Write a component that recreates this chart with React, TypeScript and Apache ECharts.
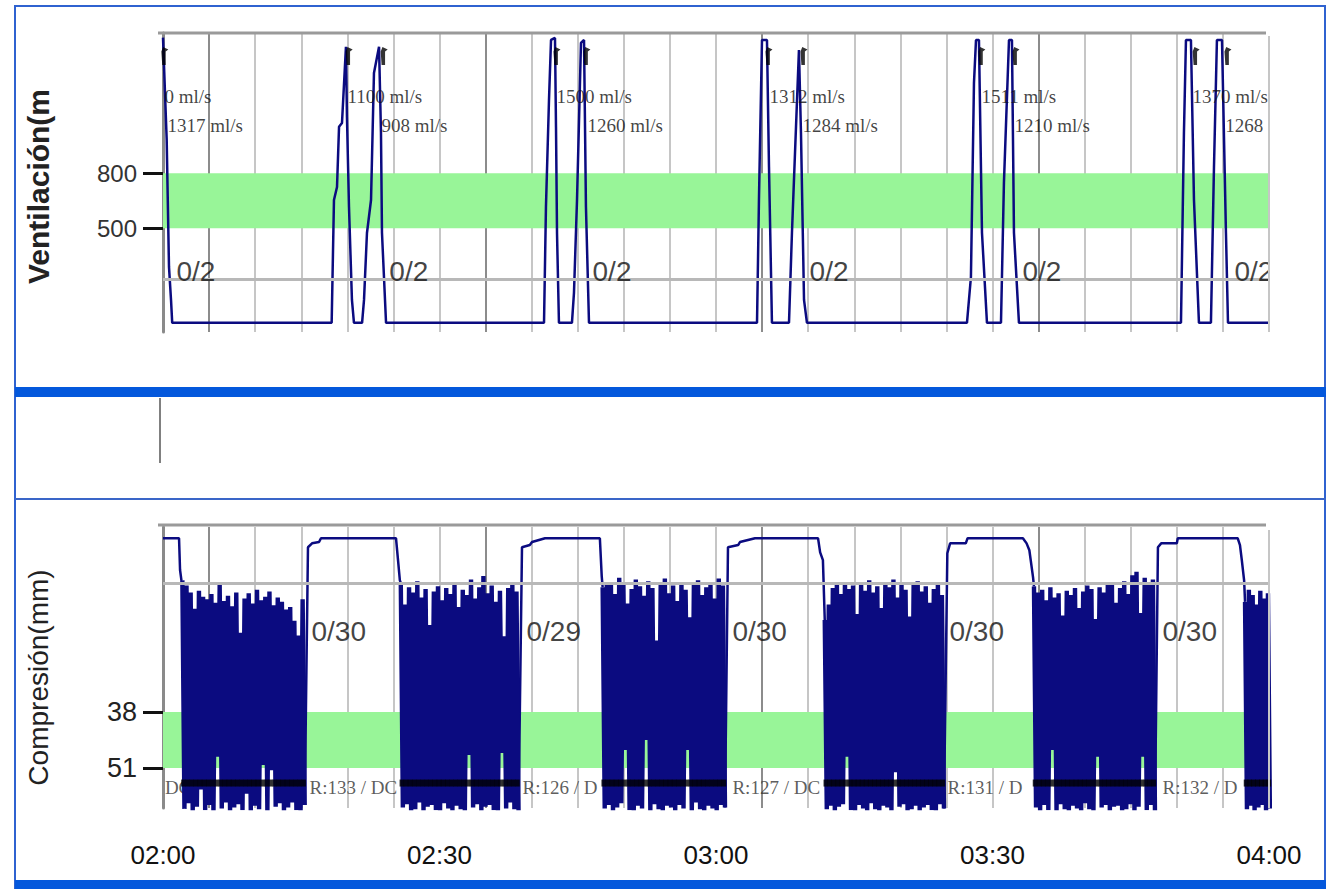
import React, { useEffect, useRef } from "react";
import * as echarts from "echarts";

// ---------- time axis ----------
const timeTickValues = [120, 150, 180, 210, 240];
const timeTickLabels = ["02:00", "02:30", "03:00", "03:30", "04:00"];

// ---------- ventilation (top panel) ----------
const ventAxisTicks = [500, 800];
const ventTargetBand = [500, 800];
const ventReferenceLine = 222;
const ventWave: number[][] = [
  [120.0, 1540], [120.4, 982], [120.65, 289], [120.87, 109], [121.0, -16],
  [138.3, -16], [138.55, 654], [138.88, 725], [139.1, 1053], [139.42, 1074], [139.85, 1490], [139.96, 1107], [140.18, 616], [140.5, 109], [140.72, -16],
  [141.6, -16], [141.81, 109], [142.13, 474], [142.57, 654], [142.89, 1347], [143.44, 1490], [143.65, 1020], [143.76, 474], [144.2, -16],
  [161.34, -16], [161.55, 616], [161.88, 1200], [162.1, 1527], [162.53, 1538], [162.64, 1053], [162.75, 474], [162.96, -16],
  [164.37, -16], [164.59, 147], [164.92, 654], [165.35, 1511], [165.68, 1527], [165.89, 616], [166.22, -16],
  [184.45, -16], [184.66, 654], [184.99, 1527], [185.53, 1527], [185.75, 834], [186.07, -16],
  [187.92, -16], [188.24, 474], [188.68, 1053], [189.0, 1472], [189.22, 1020], [189.55, 109], [189.87, -16],
  [207.23, -16], [207.66, 234], [207.99, 1293], [208.21, 1527], [208.53, 1527], [208.86, 474], [209.4, -16],
  [210.92, -16], [211.24, 746], [211.79, 1527], [212.11, 1527], [212.33, 474], [212.87, -16],
  [230.45, -16], [230.77, 1020], [230.99, 1527], [231.53, 1527], [231.86, 654], [232.4, -16],
  [233.7, -16], [234.03, 834], [234.35, 1527], [234.9, 1527], [235.33, 474], [235.55, -16],
  [240, -16],
];
const ventFlowTimes1 = [120.1, 139.96, 162.64, 185.75, 208.75, 231.64];
const ventFlowLabels1 = ["0 ml/s", "1100 ml/s", "1500 ml/s", "1312 ml/s", "1511 ml/s", "1370 ml/s"];
const ventFlowTimes2 = [120.43, 143.65, 166.0, 189.33, 212.33, 235.2];
const ventFlowLabels2 = ["1317 ml/s", "908 ml/s", "1260 ml/s", "1284 ml/s", "1210 ml/s", "1268 ml/s"];
const ventCountTimes = [121.4, 144.5, 166.55, 190.1, 213.2, 236.2];
const ventCountLabels = ["0/2", "0/2", "0/2", "0/2", "0/2", "0/2"];
const ventLabelRows = [1216, 1063, 262];
const ventMarkerTimes = [120.2, 140.2, 144.0, 162.75, 166.0, 185.75, 189.55, 208.85, 212.55, 232.1, 235.55];
const ventMarkerValue = 1440;

// ---------- compression (bottom panel) ----------
const compAxisTicks = [38, 51];
const compTargetBand = [38, 51];
const compReferenceLine = 8;
const pauseSegments: number[][][] = [
  [[120.0, -2.4], [121.74, -2.4], [121.85, 5.0], [122.0, 7.4]],
  [[135.73, -0.3], [136.17, -1.2], [136.93, -1.5], [137.14, -2.4], [145.28, -2.4], [145.5, 2.7], [145.7, 7.4]],
  [[158.95, -0.3], [159.8, -0.8], [160.04, -1.5], [161.45, -2.4], [167.4, -2.4], [167.6, 6.4]],
  [[181.3, -0.3], [182.4, -0.8], [182.6, -1.5], [184.23, -2.4], [191.07, -2.4], [191.3, 0.9], [191.6, 2.7]],
  [[205.1, 1.1], [205.4, -1.2], [207.1, -1.2], [207.3, -2.4], [213.3, -2.4], [213.7, -1.2], [214.0, 0.4], [214.4, 6.7]],
  [[227.95, -0.3], [228.3, -1.2], [230.0, -1.2], [230.1, -2.4], [236.6, -2.4], [236.85, -0.8], [237.05, 2.7], [237.3, 7.4]],
];
const blockStart = [122.1, 145.8, 167.7, 191.8, 214.5, 237.4];
const blockEnd = [135.6, 158.8, 181.2, 204.95, 227.85, 240.3];
const releaseByBlock: number[][] = [
  [7.4, 8.6, 10.2, 14.0, 9.8, 11.2, 11.8, 10.6, 12.6, 8.4, 12.2, 11.0, 13.4, 10.2, 19.6, 11.6, 10.4, 12.8, 9.6, 12.0, 11.2, 10.0, 13.2, 11.4, 12.4, 14.2, 13.6, 16.8, 20.2, 11.8],
  [8.0, 13.0, 9.0, 10.2, 7.6, 11.4, 9.4, 17.8, 10.0, 8.8, 12.0, 9.2, 10.6, 8.2, 13.6, 9.6, 10.8, 7.2, 11.6, 9.0, 6.4, 10.4, 8.6, 12.4, 9.8, 20.4, 9.2, 8.4, 10.0],
  [9.0, 7.8, 8.4, 10.6, 6.8, 8.0, 12.8, 9.4, 7.2, 8.8, 11.0, 7.6, 9.2, 21.4, 8.2, 7.0, 10.4, 8.6, 12.2, 7.8, 9.6, 16.0, 8.4, 7.4, 10.8, 9.0, 8.0, 11.6, 7.0, 8.6],
  [16.6, 13.0, 9.2, 8.0, 10.6, 7.8, 9.4, 8.6, 15.2, 8.2, 9.8, 7.4, 10.2, 8.8, 13.8, 8.0, 9.0, 7.2, 11.4, 8.4, 9.6, 15.8, 8.2, 7.6, 10.0, 8.8, 12.6, 9.4, 8.0, 10.8],
  [8.8, 10.2, 9.6, 12.0, 9.0, 11.4, 10.4, 15.6, 9.8, 10.8, 9.2, 13.8, 10.0, 8.6, 9.4, 16.4, 9.0, 10.2, 8.4, 8.0, 12.6, 9.2, 7.6, 10.6, 6.2, 5.4, 15.0, 6.8, 8.4, 7.2],
  [12.4, 9.6, 10.8, 13.0, 9.8, 11.6, 10.4],
];
const depthByBlock: number[][] = [
  [60.5, 59.2, 61.0, 60.0, 56.0, 60.8, 59.6, 61.2, 48.4, 60.4, 59.0, 61.0, 60.2, 59.4, 60.8, 57.0, 61.2, 59.8, 60.6, 50.3, 61.0, 51.5, 60.0, 59.2, 61.4, 60.2, 59.0, 60.8, 61.0, 59.6],
  [60.2, 59.4, 61.0, 60.6, 59.0, 61.2, 60.0, 59.6, 60.8, 61.4, 59.2, 60.4, 61.0, 59.8, 60.6, 61.2, 48.0, 60.2, 59.4, 61.0, 60.0, 59.6, 60.8, 61.2, 47.5, 60.4, 59.0, 60.6, 61.0],
  [60.4, 59.6, 61.0, 60.2, 59.2, 46.8, 60.8, 61.2, 59.8, 60.4, 44.5, 61.0, 59.4, 60.6, 61.2, 59.8, 60.2, 61.0, 59.6, 60.4, 46.8, 61.2, 59.0, 60.6, 61.0, 59.8, 60.4, 61.2, 59.6, 60.2],
  [60.6, 59.8, 61.2, 60.0, 59.4, 48.4, 60.8, 61.0, 59.6, 60.4, 61.2, 59.2, 60.6, 61.0, 59.8, 60.2, 61.4, 52.0, 60.0, 59.4, 61.0, 60.6, 59.8, 61.2, 60.2, 59.6, 60.8, 61.0, 59.4, 60.4],
  [60.2, 61.0, 59.6, 60.8, 46.8, 61.2, 59.4, 60.6, 61.0, 59.8, 60.4, 61.2, 59.2, 60.6, 61.0, 48.4, 60.2, 59.6, 61.4, 60.0, 59.8, 61.0, 60.6, 59.4, 61.2, 60.0, 48.4, 60.8, 59.6, 61.0],
  [60.6, 59.8, 61.0, 60.2, 59.6, 61.2, 60.4],
];
const compMarkerValue = 54.5;
const compCountTimes = [136.06, 159.38, 181.73, 205.28, 228.39];
const compCountLabels = ["0/30", "0/29", "0/30", "0/30", "0/30"];
const compCountValue = 19.4;
const rateLabelTimes = [120.15, 135.84, 158.95, 181.73, 205.06, 228.39];
const rateLabels = ["DC", "R:133 / DC", "R:126 / D", "R:127 / DC", "R:131 / D", "R:132 / D"];
const rateLabelValue = 55.6;

const SANS = "'Liberation Sans', Arial, sans-serif";
const SERIF = "'Liberation Serif', 'Times New Roman', serif";
const NAVY = "#0b0b80";
const GREEN = "#98f598";

function buildCompressionWave() {
  const pauses: (number[] | null)[] = [];
  const blocks: (number[] | null)[] = [];
  const marks: number[][] = [];
  let lastPoint: number[] | null = null;
  for (let k = 0; k < blockStart.length; k++) {
    const rel = releaseByBlock[k];
    const dep = depthByBlock[k];
    const step = (blockEnd[k] - blockStart[k]) / rel.length;
    const blockPts: number[][] = [];
    rel.forEach((r, i) => {
      const t = blockStart[k] + i * step;
      blockPts.push([t, r]);
      blockPts.push([t + step / 2, dep[i]]);
      marks.push([t + step / 4, compMarkerValue]);
    });
    if (lastPoint) pauses.push(lastPoint);
    pauseSegments[k].forEach((p) => pauses.push(p));
    pauses.push(blockPts[0]);
    pauses.push(null);
    blockPts.forEach((p) => blocks.push(p));
    blocks.push(null);
    lastPoint = blockPts[blockPts.length - 1];
  }
  return { pauses, blocks, marks };
}

function labelSeries(xi: number, yi: number, times: number[], texts: string[], value: number, style: any, z: number) {
  return {
    type: "scatter",
    xAxisIndex: xi,
    yAxisIndex: yi,
    z,
    silent: true,
    symbolSize: 1,
    itemStyle: { color: "rgba(0,0,0,0)" },
    emphasis: { disabled: true },
    data: times.map((t, i) => ({ value: [t, value], name: texts[i] })),
    label: { show: true, position: "right", distance: 0, formatter: "{b}", ...style },
  };
}

function buildOption() {
  const { pauses, blocks, marks } = buildCompressionWave();
  const splitColors = ["#8c8c8c", "#c6c6c6", "#c6c6c6", "#c6c6c6", "#c6c6c6", "#c6c6c6"];
  const xBase = (gridIndex: number, showLabels: boolean) => ({
    type: "value",
    gridIndex,
    min: 120,
    max: 240,
    interval: 5,
    axisLine: { show: false },
    axisTick: { show: false },
    splitLine: {
      show: true,
      showMinLine: false,
      showMaxLine: false,
      lineStyle: { color: splitColors, width: 2 },
    },
    axisLabel: showLabels
      ? {
          show: true,
          customValues: timeTickValues,
          formatter: (v: number) => timeTickLabels[timeTickValues.indexOf(v)] ?? "",
          fontSize: 26,
          fontFamily: SANS,
          color: "#111",
          margin: 34,
        }
      : { show: false },
  });

  return {
    animation: false,
    backgroundColor: "#ffffff",
    grid: [
      { left: 163, right: 58, top: 33, height: 299 },
      { left: 163, right: 58, top: 527, height: 281 },
    ],
    xAxis: [xBase(0, false), xBase(1, true)],
    yAxis: [
      {
        type: "value",
        gridIndex: 0,
        min: -66,
        max: 1565,
        splitLine: { show: false },
        axisLine: { show: true, lineStyle: { color: "#8a8a8a", width: 3 } },
        axisTick: { show: true, customValues: ventAxisTicks, length: 20, lineStyle: { color: "#111", width: 3 } },
        axisLabel: { show: true, customValues: ventAxisTicks, fontSize: 24, fontFamily: SANS, color: "#333", margin: 26 },
        name: "Ventilación(m",
        nameLocation: "middle",
        nameRotate: 90,
        nameGap: 110,
        nameTextStyle: { fontSize: 30, fontWeight: "bold", fontFamily: SANS, color: "#222", padding: [0, 8, 0, 0] },
      },
      {
        type: "value",
        gridIndex: 1,
        inverse: true,
        min: -5,
        max: 60.3,
        splitLine: { show: false },
        axisLine: { show: true, lineStyle: { color: "#8a8a8a", width: 3 } },
        axisTick: { show: true, customValues: compAxisTicks, length: 20, lineStyle: { color: "#111", width: 3 } },
        axisLabel: { show: true, customValues: compAxisTicks, fontSize: 27, fontFamily: SANS, color: "#222", margin: 26 },
        name: "Compresión(mm)",
        nameLocation: "middle",
        nameRotate: 90,
        nameGap: 111,
        nameTextStyle: { fontSize: 28, fontFamily: SANS, color: "#222", padding: [0, 20, 0, 0] },
      },
    ],
    series: [
      {
        type: "line",
        xAxisIndex: 0,
        yAxisIndex: 0,
        z: 1,
        silent: true,
        data: [],
        markArea: {
          silent: true,
          itemStyle: { color: GREEN },
          data: [[{ yAxis: ventTargetBand[0] }, { yAxis: ventTargetBand[1] }]],
        },
        markLine: {
          silent: true,
          symbol: "none",
          label: { show: false },
          lineStyle: { color: "#b8b8b8", width: 3, type: "solid" },
          data: [{ yAxis: ventReferenceLine }],
        },
      },
      {
        type: "line",
        xAxisIndex: 0,
        yAxisIndex: 0,
        z: 3,
        silent: true,
        showSymbol: false,
        symbol: "none",
        data: ventWave,
        lineStyle: { color: NAVY, width: 2.5 },
      },
      {
        type: "scatter",
        xAxisIndex: 0,
        yAxisIndex: 0,
        z: 4,
        silent: true,
        symbol: "path://M0,5 L2,0 L8,3 L5,5 L5,20 L1,20 Z",
        symbolSize: [7, 18],
        itemStyle: { color: "#000" },
        data: ventMarkerTimes.map((t) => [t, ventMarkerValue]),
      },
      labelSeries(0, 0, ventFlowTimes1, ventFlowLabels1, ventLabelRows[0], { fontSize: 19, fontFamily: SERIF, color: "#111" }, 5),
      labelSeries(0, 0, ventFlowTimes2, ventFlowLabels2, ventLabelRows[1], { fontSize: 19, fontFamily: SERIF, color: "#111" }, 5),
      labelSeries(0, 0, ventCountTimes, ventCountLabels, ventLabelRows[2], { fontSize: 28, fontFamily: SANS, color: "#111" }, 5),

      {
        type: "line",
        xAxisIndex: 1,
        yAxisIndex: 1,
        z: 1,
        silent: true,
        data: [],
        markArea: {
          silent: true,
          itemStyle: { color: GREEN },
          data: [[{ yAxis: compTargetBand[0] }, { yAxis: compTargetBand[1] }]],
        },
        markLine: {
          silent: true,
          symbol: "none",
          label: { show: false },
          lineStyle: { color: "#b8b8b8", width: 3, type: "solid" },
          data: [{ yAxis: compReferenceLine }],
        },
      },
      labelSeries(1, 1, rateLabelTimes, rateLabels, rateLabelValue, { fontSize: 19, fontFamily: SERIF, color: "#333" }, 2),
      {
        type: "line",
        xAxisIndex: 1,
        yAxisIndex: 1,
        z: 3,
        silent: true,
        showSymbol: false,
        symbol: "none",
        connectNulls: false,
        data: pauses,
        lineStyle: { color: NAVY, width: 2.5 },
      },
      {
        type: "line",
        xAxisIndex: 1,
        yAxisIndex: 1,
        z: 3,
        silent: true,
        showSymbol: false,
        symbol: "none",
        connectNulls: false,
        data: blocks,
        lineStyle: { color: NAVY, width: 4.4, join: "miter" },
      },
      {
        type: "scatter",
        xAxisIndex: 1,
        yAxisIndex: 1,
        z: 4,
        silent: true,
        symbol: "rect",
        symbolSize: [4.5, 7],
        itemStyle: { color: "#000" },
        data: marks,
      },
      labelSeries(1, 1, compCountTimes, compCountLabels, compCountValue, { fontSize: 28, fontFamily: SANS, color: "#111" }, 5),
    ],
    graphic: [
      // top panel frame
      { type: "line", z: 50, shape: { x1: 158, y1: 33, x2: 1266, y2: 33 }, style: { stroke: "#9a9a9a", lineWidth: 3 } },
      { type: "line", z: 50, shape: { x1: 1269, y1: 36, x2: 1269, y2: 332 }, style: { stroke: "#c6c6c6", lineWidth: 2 } },
      { type: "rect", z: 49, shape: { x: 1270, y: 34, width: 54, height: 305 }, style: { fill: "#ffffff" } },
      // bottom panel frame
      { type: "line", z: 50, shape: { x1: 158, y1: 525, x2: 1266, y2: 525 }, style: { stroke: "#9a9a9a", lineWidth: 3 } },
      { type: "line", z: 50, shape: { x1: 1269, y1: 530, x2: 1269, y2: 808 }, style: { stroke: "#c6c6c6", lineWidth: 2 } },
      // middle panel stub
      { type: "line", z: 50, shape: { x1: 160, y1: 398, x2: 160, y2: 463 }, style: { stroke: "#808080", lineWidth: 2 } },
      // window chrome
      { type: "rect", z: 60, shape: { x: 15, y: 6, width: 1310, height: 882 }, style: { fill: "none", stroke: "#2f62d0", lineWidth: 2 } },
      { type: "rect", z: 60, shape: { x: 15, y: 387, width: 1311, height: 10 }, style: { fill: "#0458dc" } },
      { type: "line", z: 60, shape: { x1: 15, y1: 499, x2: 1326, y2: 499 }, style: { stroke: "#3a66c8", lineWidth: 2 } },
      { type: "rect", z: 60, shape: { x: 15, y: 880, width: 1311, height: 9 }, style: { fill: "#0458dc" } },
    ],
  };
}

export default function App() {
  const ref = useRef<HTMLDivElement>(null);
  useEffect(() => {
    if (!ref.current) return;
    const chart = echarts.init(ref.current, null, { renderer: "svg" });
    chart.setOption(buildOption() as any);
    return () => chart.dispose();
  }, []);
  return (
    <div
      ref={ref}
      style={{ position: "absolute", left: 0, top: 0, width: 1327, height: 889, background: "#ffffff" }}
    />
  );
}
